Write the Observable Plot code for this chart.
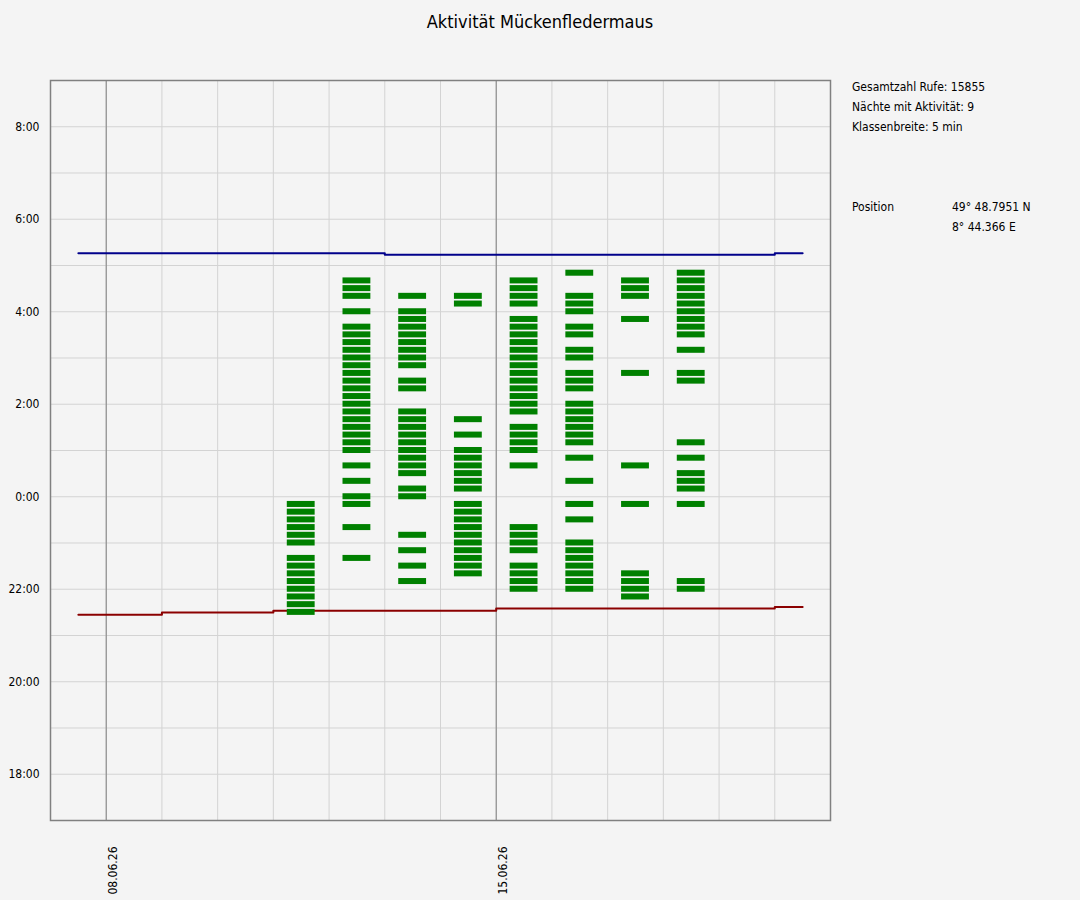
<!DOCTYPE html>
<html>
<head>
<meta charset="utf-8">
<script src="https://cdn.jsdelivr.net/npm/d3@7"></script>
<script src="https://cdn.jsdelivr.net/npm/@observablehq/plot@0.6"></script>
<style>
  html, body { margin: 0; padding: 0; background: #f4f4f4; }
  #wrap { position: relative; width: 1080px; height: 900px; font-family: Tahoma, "DejaVu Sans Condensed", "DejaVu Sans", sans-serif; color: #000; }
  #chart { position: absolute; left: 0; top: 0; }
  #title { position: absolute; left: 0; top: 11px; width: 1080px; text-align: center; font-size: 18px; line-height: 22px; }
  .info { position: absolute; font-size: 12px; line-height: 14px; white-space: nowrap; }
</style>
</head>
<body>
<div id="wrap">
  <div id="chart"></div>
  <div id="title">Aktivität Mückenfledermaus</div>
  <div class="info" style="left:852px; top:80px;">Gesamtzahl Rufe: 15855</div>
  <div class="info" style="left:852px; top:100px;">Nächte mit Aktivität: 9</div>
  <div class="info" style="left:852px; top:120px;">Klassenbreite: 5 min</div>
  <div class="info" style="left:852px; top:200px;">Position</div>
  <div class="info" style="left:952px; top:200px;">49° 48.7951 N</div>
  <div class="info" style="left:952px; top:220px;">8° 44.366 E</div>
</div>
<script>
// ---- data ----
const xDomain = ["2026-06-07", "2026-06-21"];
const xTickDates = ["2026-06-08", "2026-06-15"];
const yTickTimes = ["18:00", "20:00", "22:00", "0:00", "2:00", "4:00", "6:00", "8:00"];

const nightDates = ["2026-06-11", "2026-06-12", "2026-06-13", "2026-06-14",
                    "2026-06-15", "2026-06-16", "2026-06-17", "2026-06-18"];

const calls_1106 = ["21:30","21:40","21:50","22:00","22:10","22:20","22:30","22:40","23:00","23:10","23:20","23:30","23:40","23:50"];
const calls_1206 = ["22:40","23:20","23:50","0:00","0:20","0:40","1:00","1:10","1:20","1:30","1:40","1:50","2:00","2:10","2:20","2:30","2:40","2:50","3:00","3:10","3:20","3:30","3:40","4:00","4:20","4:30","4:40"];
const calls_1306 = ["22:10","22:30","22:50","23:10","0:00","0:10","0:30","0:40","0:50","1:00","1:10","1:20","1:30","1:40","1:50","2:20","2:30","2:50","3:00","3:10","3:20","3:30","3:40","3:50","4:00","4:20"];
const calls_1406 = ["22:20","22:30","22:40","22:50","23:00","23:10","23:20","23:30","23:40","23:50","0:10","0:20","0:30","0:40","0:50","1:00","1:20","1:40","4:10","4:20"];
const calls_1506 = ["22:00","22:10","22:20","22:30","22:50","23:00","23:10","23:20","0:40","1:00","1:10","1:20","1:30","1:50","2:00","2:10","2:20","2:30","2:40","2:50","3:00","3:10","3:20","3:30","3:40","3:50","4:10","4:20","4:30","4:40"];
const calls_1606 = ["22:00","22:10","22:20","22:30","22:40","22:50","23:00","23:30","23:50","0:20","0:50","1:10","1:20","1:30","1:40","1:50","2:00","2:20","2:30","2:40","3:00","3:10","3:30","3:40","4:00","4:10","4:20","4:50"];
const calls_1706 = ["21:50","22:00","22:10","22:20","23:50","0:40","2:40","3:50","4:20","4:30","4:40"];
const calls_1806 = ["22:00","22:10","23:50","0:10","0:20","0:30","0:50","1:10","2:30","2:40","3:10","3:30","3:40","3:50","4:00","4:10","4:20","4:30","4:40","4:50"];

const sunDays = ["2026-06-07","2026-06-08","2026-06-09","2026-06-10","2026-06-11","2026-06-12","2026-06-13",
                 "2026-06-14","2026-06-15","2026-06-16","2026-06-17","2026-06-18","2026-06-19","2026-06-20"];
const sunrise = ["5:16","5:16","5:16","5:16","5:16","5:16","5:14","5:14","5:14","5:14","5:14","5:14","5:14","5:16"];
const sunset  = ["21:27","21:27","21:30","21:30","21:32","21:32","21:32","21:32","21:35","21:35","21:35","21:35","21:35","21:37"];

// ---- helpers ----
const DAY = 864e5;
const day = s => new Date(s + "T00:00:00Z");
const toMin = s => { const [h, m] = s.split(":").map(Number); return (h < 12 ? h + 24 : h) * 60 + m; };
const fmtTime = m => `${Math.floor(m / 60) % 24}:${String(m % 60).padStart(2, "0")}`;

const callLists = [calls_1106, calls_1206, calls_1306, calls_1406, calls_1506, calls_1606, calls_1706, calls_1806];
const bars = nightDates.flatMap((d, i) => callLists[i].map(t => ({date: day(d), t: toMin(t)})));
const sun = sunDays.map((d, i) => ({date: day(d), rise: toMin(sunrise[i]), set: toMin(sunset[i])}));

const xd = xDomain.map(day);
const yMin = 17 * 60, yMax = 33 * 60;
const hourLines = d3.range(yMin + 60, yMax, 60);
const dayLines = d3.utcDay.range(d3.utcDay.offset(xd[0], 1), xd[1]);
const FONT = 'Tahoma, "DejaVu Sans Condensed", "DejaVu Sans", sans-serif';

const chart = Plot.plot({
  width: 1080,
  height: 900,
  marginLeft: 50,
  marginRight: 250,
  marginTop: 80,
  marginBottom: 80,
  style: {background: "transparent", fontFamily: FONT, fontSize: "12px", color: "#000"},
  x: {type: "utc", domain: xd, label: null},
  y: {domain: [yMin, yMax], label: null},
  marks: [
    Plot.ruleX(dayLines, {stroke: "#d3d3d3", strokeWidth: 1}),
    Plot.ruleY(hourLines, {stroke: "#d3d3d3", strokeWidth: 1}),
    Plot.ruleX(xTickDates.map(day), {stroke: "#808080", strokeWidth: 1}),
    Plot.frame({stroke: "#808080", strokeWidth: 1.5}),
    Plot.line(sun, {x: d => new Date(+d.date + DAY / 2), y: "rise", stroke: "#00008b", strokeWidth: 2, curve: "step"}),
    Plot.line(sun, {x: d => new Date(+d.date + DAY / 2), y: "set", stroke: "#8b0000", strokeWidth: 2, curve: "step"}),
    Plot.rect(bars, {
      x1: d => new Date(+d.date + DAY * 0.25),
      x2: d => new Date(+d.date + DAY * 0.75),
      y1: d => d.t - 3.9,
      y2: d => d.t + 3.9,
      fill: "#008000"
    }),
    Plot.axisY({ticks: yTickTimes.map(toMin), tickFormat: fmtTime, tickSize: 0, tickPadding: 11, fill: "#000", fontSize: 12}),
    Plot.axisX({ticks: xTickDates.map(day), tickFormat: d3.utcFormat("%d.%m.%y"), tickRotate: -90, tickSize: 0, tickPadding: 26, dx: 7, fill: "#000", fontSize: 12})
  ]
});
document.getElementById("chart").appendChild(chart);
</script>
</body>
</html>
